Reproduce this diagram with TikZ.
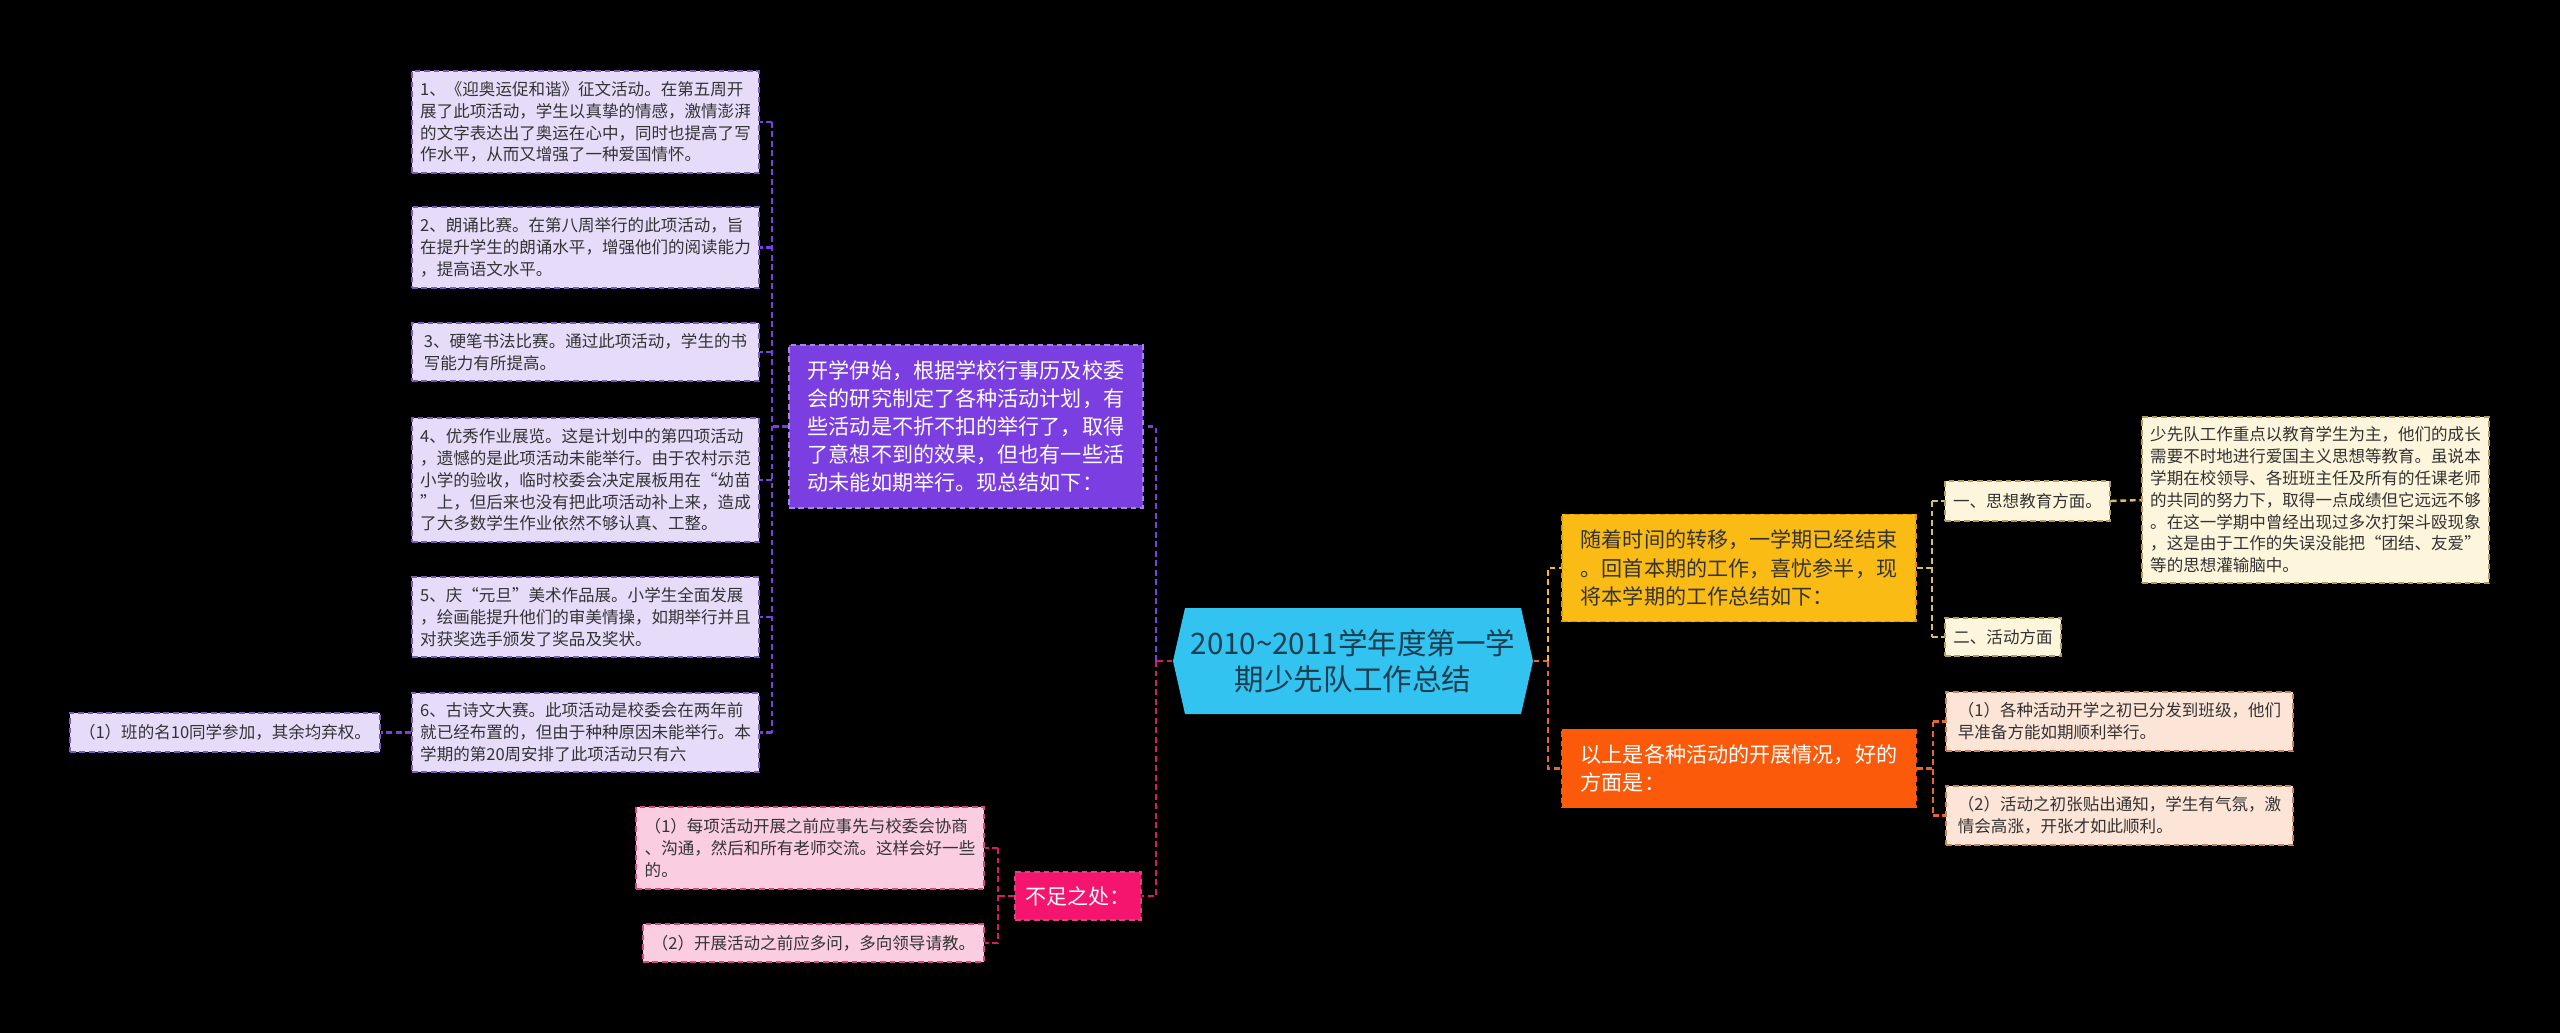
\documentclass[tikz,border=0pt]{standalone}
\usepackage{xcolor}
\usepackage{tikz}
\usepackage{fontspec}
\setmainfont{Noto Sans CJK SC}

\definecolor{cielo}{HTML}{32C3F0}
\definecolor{textoraiz}{HTML}{1C3E4E}
\definecolor{morado}{HTML}{7A3EE1}
\definecolor{moradoborde}{HTML}{A982F0}
\definecolor{lila}{HTML}{E6DCFA}
\definecolor{lilaborde}{HTML}{7A5ABE}
\definecolor{rosa}{HTML}{F5146E}
\definecolor{rosalinea}{HTML}{D81B60}
\definecolor{rosaclaro}{HTML}{FACDE1}
\definecolor{rosaborde}{HTML}{D9457F}
\definecolor{amarillo}{HTML}{FABC14}
\definecolor{amarilloborde}{HTML}{D99A00}
\definecolor{crema}{HTML}{FDF5DC}
\definecolor{cremaborde}{HTML}{B89A5A}
\definecolor{cremalinea}{HTML}{D9BC6A}
\definecolor{naranja}{HTML}{FA5A0A}
\definecolor{naranjalinea}{HTML}{E8662A}
\definecolor{durazno}{HTML}{FCE4D6}
\definecolor{duraznoborde}{HTML}{C8825F}
\definecolor{textoosc}{HTML}{333333}

\begin{document}
\begin{tikzpicture}[x=0.01cm, y=-0.01cm,
    caja/.style={rectangle, draw, dash pattern=on 1.6pt off 1.1pt, line width=0.5pt, align=left, inner sep=0pt},
    hijo/.style={caja, text=textoosc, font=\fontsize{4.7pt}{6.2pt}\selectfont},
    rama/.style={caja, font=\fontsize{6pt}{8pt}\selectfont},
    linea/.style={dash pattern=on 1.6pt off 1.1pt, line width=0.7pt}]
  % Fondo
  \fill[black] (0,0) rectangle (2560,1033);

  % Nodo central
  \fill[cielo] (1173,661) -- (1185,608) -- (1521,608) -- (1533,661) -- (1521,714) -- (1185,714) -- cycle;
  \node[inner sep=0pt, minimum width=3.6cm, minimum height=1.06cm, align=center, text=textoraiz,
        font=\fontsize{8.4pt}{10.4pt}\selectfont] (raiz) at (1353,661)
    {2010\textasciitilde2011学年度第一学\\期少先队工作总结};

  % Rama izquierda superior
  \node[rama, fill=morado, draw=moradoborde, text=white, minimum width=3.54cm, minimum height=1.63cm] (p0) at (966,426.5)
    {开学伊始，根据学校行事历及校委\\会的研究制定了各种活动计划，有\\些活动是不折不扣的举行了，取得\\了意想不到的效果，但也有一些活\\动未能如期举行。现总结如下：};
  \node[hijo, fill=lila, draw=lilaborde, minimum width=3.47cm, minimum height=1.02cm] (p1) at (585.5,122)
    {1、《迎奥运促和谐》征文活动。在第五周开\\展了此项活动，学生以真挚的情感，激情澎湃\\的文字表达出了奥运在心中，同时也提高了写\\作水平，从而又增强了一种爱国情怀。};
  \node[hijo, fill=lila, draw=lilaborde, minimum width=3.47cm, minimum height=0.81cm] (p2) at (585.5,247.5)
    {2、朗诵比赛。在第八周举行的此项活动，旨\\在提升学生的朗诵水平，增强他们的阅读能力\\，提高语文水平。};
  \node[hijo, fill=lila, draw=lilaborde, minimum width=3.47cm, minimum height=0.58cm] (p3) at (585.5,352)
    {3、硬笔书法比赛。通过此项活动，学生的书\\写能力有所提高。};
  \node[hijo, fill=lila, draw=lilaborde, minimum width=3.47cm, minimum height=1.24cm] (p4) at (585.5,480)
    {4、优秀作业展览。这是计划中的第四项活动\\，遗憾的是此项活动未能举行。由于农村示范\\小学的验收，临时校委会决定展板用在“幼苗\\”上，但后来也没有把此项活动补上来，造成\\了大多数学生作业依然不够认真、工整。};
  \node[hijo, fill=lila, draw=lilaborde, minimum width=3.47cm, minimum height=0.80cm] (p5) at (585.5,617)
    {5、庆“元旦”美术作品展。小学生全面发展\\，绘画能提升他们的审美情操，如期举行并且\\对获奖选手颁发了奖品及奖状。};
  \node[hijo, fill=lila, draw=lilaborde, minimum width=3.47cm, minimum height=0.79cm] (p6) at (585.5,732.5)
    {6、古诗文大赛。此项活动是校委会在两年前\\就已经布置的，但由于种种原因未能举行。本\\学期的第20周安排了此项活动只有六};
  \node[hijo, fill=lila, draw=lilaborde, minimum width=3.10cm, minimum height=0.39cm] (p61) at (225,732.5)
    {（1）班的名10同学参加，其余均弃权。};

  % Rama izquierda inferior
  \node[rama, fill=rosa, draw=rosaborde, text=white, minimum width=1.26cm, minimum height=0.48cm] (n0) at (1078,896)
    {不足之处：};
  \node[hijo, fill=rosaclaro, draw=rosaborde, minimum width=3.48cm, minimum height=0.82cm] (nA) at (810,848)
    {（1）每项活动开展之前应事先与校委会协商\\、沟通，然后和所有老师交流。这样会好一些\\的。};
  \node[hijo, fill=rosaclaro, draw=rosaborde, minimum width=3.41cm, minimum height=0.38cm] (nB) at (813.5,943)
    {（2）开展活动之前应多问，多向领导请教。};

  % Rama derecha superior
  \node[rama, fill=amarillo, draw=amarilloborde, text=textoosc, minimum width=3.54cm, minimum height=1.07cm] (y0) at (1739,568)
    {随着时间的转移，一学期已经结束\\。回首本期的工作，喜忧参半，现\\将本学期的工作总结如下：};
  \node[hijo, fill=crema, draw=cremaborde, minimum width=1.65cm, minimum height=0.40cm] (yA) at (2027.5,501)
    {一、思想教育方面。};
  \node[hijo, fill=crema, draw=cremaborde, minimum width=1.16cm, minimum height=0.38cm] (yB) at (2003,637)
    {二、活动方面};
  \node[hijo, fill=crema, draw=cremaborde, minimum width=3.47cm, minimum height=1.66cm] (yA1) at (2315.5,500)
    {少先队工作重点以教育学生为主，他们的成长\\需要不时地进行爱国主义思想等教育。虽说本\\学期在校领导、各班班主任及所有的任课老师\\的共同的努力下，取得一点成绩但它远远不够\\。在这一学期中曾经出现过多次打架斗殴现象\\，这是由于工作的失误没能把“团结、友爱”\\等的思想灌输脑中。};

  % Rama derecha inferior
  \node[rama, fill=naranja, draw=naranja, text=white, minimum width=3.54cm, minimum height=0.78cm] (o0) at (1739,768.5)
    {以上是各种活动的开展情况，好的\\方面是：};
  \node[hijo, fill=durazno, draw=duraznoborde, minimum width=3.47cm, minimum height=0.59cm] (oA) at (2119.5,721.5)
    {（1）各种活动开学之初已分发到班级，他们\\早准备方能如期顺利举行。};
  \node[hijo, fill=durazno, draw=duraznoborde, minimum width=3.47cm, minimum height=0.59cm] (oB) at (2119.5,815.5)
    {（2）活动之初张贴出通知，学生有气氛，激\\情会高涨，开张才如此顺利。};

  % Aristas izquierda
  \draw[linea, rosalinea] (raiz.west) -- ++(-16,0) coordinate (jr);
  \draw[linea, morado] (jr) |- (p0.east);
  \draw[linea, rosalinea] (jr) |- (n0.east);
  \draw[linea, morado] (p0.west) -- ++(-16,0) coordinate (jp);
  \draw[linea, morado] (jp |- p1.east) -- (jp |- p6.east);
  \foreach \h in {p1,p2,p3,p4,p5,p6}
    \draw[linea, morado] (jp |- \h.east) -- (\h.east);
  \draw[linea, morado] (p6.west) -- (p61.east);
  \draw[linea, rosalinea] (n0.west) -- ++(-16,0) coordinate (jn);
  \draw[linea, rosalinea] (jn |- nA.east) -- (jn |- nB.east);
  \foreach \h in {nA,nB}
    \draw[linea, rosalinea] (jn |- \h.east) -- (\h.east);

  % Aristas derecha
  \draw[linea, naranjalinea] (raiz.east) -- ++(14,0) coordinate (jd);
  \draw[linea, amarillo] (jd) |- (y0.west);
  \draw[linea, naranjalinea] (jd) |- (o0.west);
  \draw[linea, cremalinea] (y0.east) -- ++(15,0) coordinate (jy);
  \draw[linea, cremalinea] (jy |- yA.west) -- (jy |- yB.west);
  \foreach \h in {yA,yB}
    \draw[linea, cremalinea] (jy |- \h.west) -- (\h.west);
  \draw[linea, cremalinea] (yA.east) -- (yA1.west);
  \draw[linea, naranjalinea] (o0.east) -- ++(16,0) coordinate (jo);
  \draw[linea, naranjalinea] (jo |- oA.west) -- (jo |- oB.west);
  \foreach \h in {oA,oB}
    \draw[linea, naranjalinea] (jo |- \h.west) -- (\h.west);
\end{tikzpicture}
\end{document}
